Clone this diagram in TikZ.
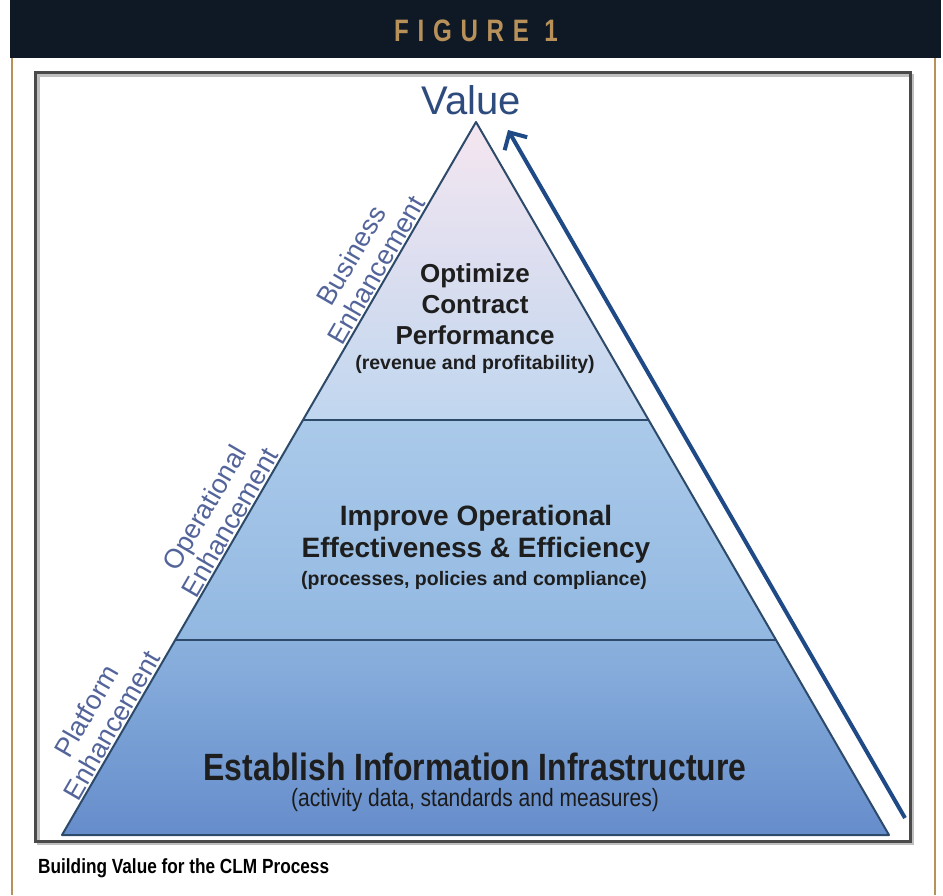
\documentclass[tikz,border=0pt]{standalone}
\usepackage{fontspec}
\setmainfont{Liberation Sans}
\newfontfamily\narrowfont[FakeStretch=0.84]{Liberation Sans}
\newfontfamily\capfont[FakeStretch=0.78,LetterSpace=28]{Liberation Sans}
\usetikzlibrary{calc,arrows.meta}

\definecolor{bandnavy}{HTML}{0E1925}
\definecolor{tan}{HTML}{B8915A}
\definecolor{framegray}{HTML}{4A4A4A}
\definecolor{edgeblue}{HTML}{2D4A6B}
\definecolor{arrowblue}{HTML}{1F4A86}
\definecolor{valueblue}{HTML}{2E4B7E}
\definecolor{labelblue}{HTML}{53649A}
\definecolor{inktext}{HTML}{1E1E1E}
\definecolor{apexpink}{HTML}{F5E6F0}
\definecolor{tierone}{HTML}{C0D6EF}
\definecolor{tiertwotop}{HTML}{ABCAEA}
\definecolor{tiertwobot}{HTML}{92B8E1}
\definecolor{tierthreetop}{HTML}{8AB1DD}
\definecolor{tierthreebot}{HTML}{668DCB}

\tikzset{
  tierline/.style={draw=edgeblue, line width=2pt, line join=round},
  sidelabel/.style={text=labelblue, font=\fontsize{27}{29}\selectfont, align=center, sloped, inner sep=1pt},
  headline/.style={text=inktext, font=\bfseries\fontsize{26}{31}\selectfont, align=center},
  midline/.style={text=inktext, font=\bfseries\fontsize{28}{32}\selectfont, align=center},
  subline/.style={text=inktext, font=\bfseries\fontsize{19.5}{22}\selectfont},
}

\begin{document}
\begin{tikzpicture}[x=1pt, y=-1pt]
  \useasboundingbox (0,0) rectangle (943,895);
  \fill[white] (0,0) rectangle (943,895);

  % header band
  \fill[bandnavy] (10,0) rectangle (941,58);
  \node[text=tan, font=\capfont\bfseries\fontsize{31}{31}\selectfont] (fig) at (476,31) {FIGURE 1};

  % side rules
  \draw[tan, line width=2pt] (12,58) -- (12,895);
  \draw[tan, line width=2pt] (935,58) -- (935,895);

  % picture frame with soft shadow
  \draw[black!25, line width=3pt] (38,75) rectangle (912,843);
  \draw[framegray, line width=3pt] (35,72) rectangle (910,841);

  % pyramid corners
  \coordinate (apex) at (476,122);
  \coordinate (bl) at (62,835);
  \coordinate (br) at (889,835);
  \coordinate (ul) at ($(bl)!0.582!(apex)$);
  \coordinate (ur) at ($(br)!0.582!(apex)$);
  \coordinate (ll) at ($(bl)!0.273!(apex)$);
  \coordinate (lr) at ($(br)!0.273!(apex)$);

  % tiers
  \shade[top color=apexpink, bottom color=tierone] (apex) -- (ur) -- (ul) -- cycle;
  \shade[top color=tiertwotop, bottom color=tiertwobot] (ul) -- (ur) -- (lr) -- (ll) -- cycle;
  \shade[top color=tierthreetop, bottom color=tierthreebot] (ll) -- (lr) -- (br) -- (bl) -- cycle;
  \draw[tierline] (apex) -- (br) -- (bl) -- cycle;
  \draw[tierline] (ul) -- (ur);
  \draw[tierline] (ll) -- (lr);

  % labels along the left edge
  \path (bl) -- (apex)
    node[sidelabel, pos=0.145, above=1pt] (platform) {Platform\\Enhancement}
    node[sidelabel, pos=0.43, above=1pt] (operational) {Operational\\Enhancement}
    node[sidelabel, pos=0.784, above=1pt] (business) {Business\\Enhancement};

  % tier texts
  \node[headline] (optimize) at (475,304) {Optimize\\Contract\\Performance};
  \node[subline] (revenue) at (475,364) {(revenue and profitability)};
  \node[midline] (improve) at (476,534) {Improve Operational\\Effectiveness \& Efficiency};
  \node[subline] (processes) at (474,580) {(processes, policies and compliance)};
  \node[text=inktext, font=\narrowfont\bfseries\fontsize{38}{38}\selectfont] (establish) at (475,767) {Establish Information Infrastructure};
  \node[text=inktext!90!black, font=\narrowfont\fontsize{25}{25}\selectfont] (activity) at (475,800) {(activity data, standards and measures)};

  % value arrow
  \node[text=valueblue, font=\fontsize{40}{40}\selectfont] (value) at (471,100) {Value};
  \coordinate (arrowfoot) at (905,818);
  \coordinate (arrowtip) at (508,130);
  \draw[arrowblue, line width=4pt, -{Straight Barb[length=13pt,width=26pt]}] (arrowfoot) -- (arrowtip);

  % caption
  \node[anchor=base west, inner sep=0pt, text=black, font=\narrowfont\bfseries\fontsize{20.5}{20.5}\selectfont] (caption) at (38,873) {Building Value for the CLM Process};
\end{tikzpicture}
\end{document}
